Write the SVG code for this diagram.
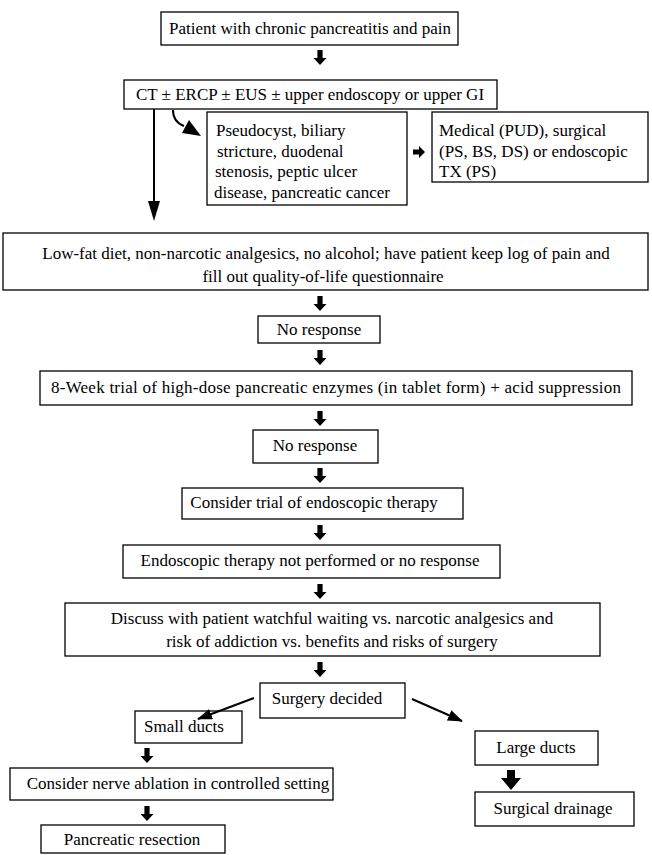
<svg xmlns="http://www.w3.org/2000/svg" width="652" height="855" viewBox="0 0 652 855">
<defs>
<style>
rect{fill:#fff;stroke:#000;stroke-width:1.3}
text{font-family:"Liberation Serif","Times New Roman",serif;font-size:17px;fill:#000}
.c{text-anchor:middle}
.ln{stroke:#000;stroke-width:2;fill:none}
.ah{fill:#000;stroke:none}
</style>
<path id="da" d="M-2.6,0 H2.6 V8 H6.5 L0,15 L-6.5,8 H-2.6 Z" class="ah"/>
<marker id="tri" viewBox="0 0 15 11" refX="14" refY="5.5" markerWidth="15" markerHeight="11" markerUnits="userSpaceOnUse" orient="auto"><path d="M0,0 L15,5.5 L0,11 Z" fill="#000"/></marker>
</defs>
<rect x="0" y="0" width="652" height="855" style="fill:#fff;stroke:none"/>

<g id="n1"><rect x="161" y="12" width="297" height="33"/><text class="c" x="310" y="34">Patient with  chronic pancreatitis and pain</text></g>
<g id="n2"><rect x="124" y="80" width="373" height="29"/><text class="c" x="310" y="100">CT ± ERCP ± EUS ±  upper endoscopy or upper GI</text></g>
<g id="n3"><rect x="207" y="112" width="200" height="93"/>
<text x="216" y="136">Pseudocyst, biliary</text>
<text x="217" y="156.5">stricture, duodenal</text>
<text x="215" y="177">stenosis, peptic ulcer</text>
<text x="214" y="197.5">disease, pancreatic cancer</text></g>
<g id="n4"><rect x="432" y="112" width="216" height="70"/>
<text x="439" y="136">Medical (PUD), surgical</text>
<text x="439" y="156.5">(PS, BS, DS) or endoscopic</text>
<text x="439" y="177">TX (PS)</text></g>
<g id="n5"><rect x="3" y="233" width="645" height="57"/>
<text class="c" x="326" y="259">Low-fat diet, non-narcotic analgesics, no alcohol;  have patient keep log of pain and</text>
<text class="c" x="323" y="282">fill out quality-of-life questionnaire</text></g>
<g id="n6"><rect x="258" y="316" width="122" height="27"/><text class="c" x="319" y="335">No response</text></g>
<g id="n7"><rect x="40" y="371" width="592" height="34"/><text class="c" x="336" y="393" textLength="570" lengthAdjust="spacing">8-Week trial of high-dose pancreatic enzymes (in tablet form) + acid suppression</text></g>
<g id="n8"><rect x="253" y="430" width="125" height="33"/><text class="c" x="315" y="451">No response</text></g>
<g id="n9"><rect x="182" y="488" width="281" height="31"/><text class="c" x="314" y="508">Consider trial of endoscopic therapy</text></g>
<g id="n10"><rect x="123" y="545" width="377" height="33"/><text class="c" x="310" y="566">Endoscopic therapy not performed or no response</text></g>
<g id="n11"><rect x="65" y="603" width="535" height="53"/>
<text class="c" x="332" y="624">Discuss with patient watchful waiting vs. narcotic analgesics and</text>
<text class="c" x="332" y="647">risk of addiction vs. benefits and risks of surgery</text></g>
<g id="n12"><rect x="260" y="683" width="145" height="35"/><text class="c" x="327" y="704">Surgery decided</text></g>
<g id="n13"><rect x="135" y="711" width="107" height="32"/><text class="c" x="184" y="732">Small ducts</text></g>
<g id="n14"><rect x="10" y="768" width="323" height="32"/><text class="c" x="178" y="789">Consider nerve ablation in controlled setting</text></g>
<g id="n15"><rect x="41" y="825" width="184" height="28"/><text class="c" x="132" y="845">Pancreatic resection</text></g>
<g id="n16"><rect x="475" y="731" width="123" height="34"/><text class="c" x="536" y="753">Large ducts</text></g>
<g id="n17"><rect x="475" y="792" width="159" height="34"/><text class="c" x="553" y="814">Surgical drainage</text></g>

<g id="connectors">
<use href="#da" x="320" y="50"/>
<path class="ln" d="M173,110 Q173,122 184,126"/>
<polygon class="ah" points="201,136 182,133 189,120"/>
<line class="ln" x1="154" y1="109" x2="154" y2="204"/>
<polygon class="ah" points="148,201 160,201 154,221"/>
<path class="ah" d="M413,149.5 H419 V146 L425,152 L419,158 V154.5 H413 Z"/>
<use href="#da" x="320" y="296"/>
<use href="#da" x="320" y="350"/>
<use href="#da" x="320" y="411"/>
<use href="#da" x="320" y="468"/>
<use href="#da" x="320" y="525"/>
<use href="#da" x="320" y="584"/>
<use href="#da" x="320" y="662"/>
<line class="ln" x1="254" y1="698" x2="198" y2="719" marker-end="url(#tri)"/>
<line class="ln" x1="412" y1="699" x2="462" y2="721" marker-end="url(#tri)"/>
<use href="#da" x="147" y="748"/>
<use href="#da" x="147" y="806"/>
<path class="ah" d="M507,770 H515 V778 H521 L511,790 L501,778 H507 Z"/>
</g>
</svg>
